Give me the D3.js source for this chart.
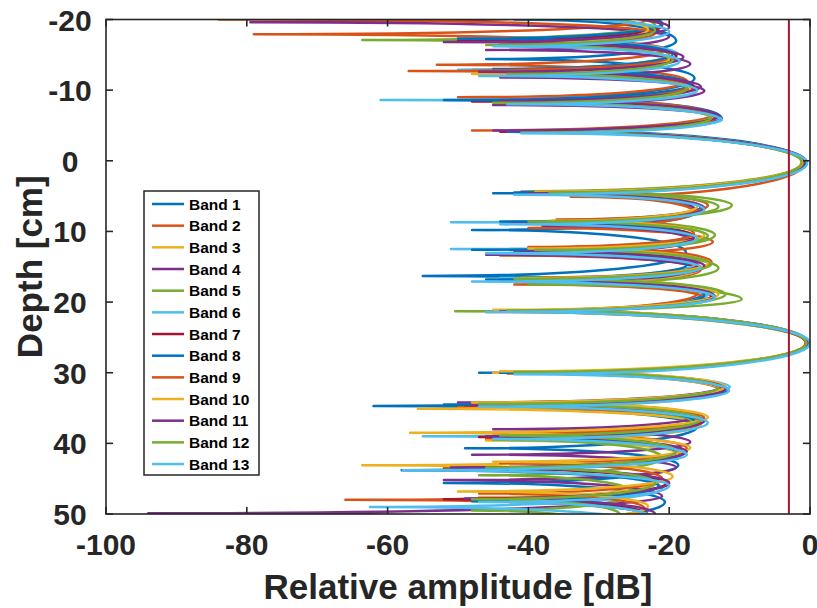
<!DOCTYPE html>
<html>
<head>
<meta charset="utf-8">
<script src="https://cdn.jsdelivr.net/npm/d3@7"></script>
<style>
  body { margin: 0; background: #fff; }
  svg { display: block; }
  text { font-family: "Liberation Sans", Arial, sans-serif; font-weight: bold; fill: #262626; }
</style>
</head>
<body>
<svg id="chart" width="817" height="608"></svg>
<script>
// ---- data ----
const bandNames = ['Band 1','Band 2','Band 3','Band 4','Band 5','Band 6','Band 7',
                   'Band 8','Band 9','Band 10','Band 11','Band 12','Band 13'];
const bandColors = ['#0072BD','#D95319','#EDB120','#7E2F8E','#77AC30','#4DBEEE','#A2142F',
                    '#0072BD','#D95319','#EDB120','#7E2F8E','#77AC30','#4DBEEE'];

// lobe peaks: depth [cm] and level [dB]
const peakDepth = [
  [-22.5,-17.0,-11.7,-6.1,0.2,7.1,13.0,18.7,25.8,32.4,37.6,43.1,48.3,53.5],
  [-24,-20.0,-15.8,-11.3,-6.5,0.3,7.2,11.5,15.4,19.4,25.8,32.4,37.1,41.4,45.7,50.1,54.5],
  [-23.5,-19.2,-14.9,-10.6,-6.2,0.2,6.8,10.9,15.1,19.3,25.8,32.5,37.3,41.4,45.4,49.8,54],
  [-25.5,-21.6,-17.6,-13.7,-9.9,-6.0,0.2,6.8,11.2,15.2,19.2,25.8,32.1,36.1,39.8,43.4,47.5,52,56],
  [-23.5,-19.2,-15.0,-10.7,-6.3,0.2,6.3,10.5,15.2,19.6,25.8,32.3,37.0,42.0,47.0,51.8,56],
  [-23.5,-19.4,-15.1,-10.2,-5.8,0.2,6.6,10.6,14.5,18.9,25.8,32.0,36.8,41.4,46.4,51.2,55],
  [-23.2,-19.1,-14.8,-10.5,-6.2,0.2,6.6,10.7,14.8,19.1,25.8,32.3,36.8,41.3,45.7,50.1,54.5],
  [-23.5,-19.4,-15.1,-10.8,-6.2,0.3,6.5,10.6,14.7,19.0,25.8,32.2,36.8,41.5,46.0,50.3,54.5],
  [-22,-18.1,-14.5,-10.5,-6.0,0.2,6.3,10.3,14.3,18.8,25.8,32.0,36.4,40.7,45.0,49.2,53.5],
  [-22.7,-18.6,-14.4,-10.2,-6.0,0.2,6.4,10.5,14.5,18.9,25.8,32.0,36.3,40.6,44.7,48.9,53.2],
  [-23,-18.9,-14.7,-10.5,-6.3,0.3,6.7,10.9,14.9,19.2,25.8,32.3,36.8,41.2,45.6,50.0,54.4],
  [-22.6,-18.5,-14.3,-10.2,-6.1,0.2,6.5,10.6,14.6,18.9,25.8,32.1,36.6,41.1,45.6,50.1,54.5],
  [-22.5,-18.3,-14.1,-10.0,-5.9,0.3,6.9,11.0,15.1,19.3,25.8,32.5,37.1,41.6,46.0,50.5,55]
];
const peakLevel = [
  [-23,-19,-16.4,-12.6,-0.8,-16,-17.6,-15,-0.2,-11.6,-16,-18.7,-20.6,-24],
  [-25,-23,-20.5,-17.5,-14,-0.8,-16.5,-13.8,-15.5,-15,-0.5,-13,-15.5,-18,-20,-23,-25],
  [-26,-22,-19,-17.5,-13.5,-0.9,-15,-16,-15.5,-14,-0.4,-12.5,-15.5,-19,-21.5,-25,-27],
  [-25,-24,-20,-17,-15,-12.5,-0.5,-16.5,-17,-16.5,-14,-0.6,-13,-16,-17,-19,-21,-24,-26],
  [-26,-22,-20,-17,-14,-1.0,-11.1,-13.5,-13,-9.7,-0.4,-12.5,-16.6,-21,-25,-29.4,-32],
  [-24,-21,-18.8,-16.5,-12.5,-0.7,-15.5,-17,-16,-14.5,-0.1,-11.4,-15,-18,-21,-24,-26],
  [-24,-21,-19,-16.5,-13.5,-0.8,-15.5,-16.5,-16,-14,-0.4,-12.5,-15.5,-18,-20.5,-23,-25],
  [-24,-21,-19.5,-17,-13.5,-0.6,-15.5,-17.5,-17.5,-15,-0.3,-12,-16.5,-18.5,-21.5,-23,-25],
  [-25,-22,-20,-17.5,-13.5,-1.0,-14.5,-16.5,-14,-16,-0.6,-12.5,-15,-17.5,-21,-23.5,-26],
  [-24,-23,-20,-17,-14,-1.1,-16,-15,-14.5,-13,-0.3,-12,-14.5,-17,-19.5,-23,-26],
  [-23,-20,-18,-15.5,-13,-0.5,-15,-16.5,-15,-13.5,-0.3,-12,-15,-17.5,-20,-22,-24],
  [-25,-22,-19.5,-17.5,-14,-1.2,-13,-14.5,-14,-12,-0.5,-13,-15.5,-19,-22,-27,-30],
  [-23,-20,-18.5,-16,-12.8,-0.4,-15,-16,-15.5,-13.5,0.0,-11.5,-14.5,-17.5,-20,-22.5,-25]
];

// nulls between the lobes: depth [cm] and the level the null dips to [dB]
const nullDepth = [
  [-20.0,-14.4,-8.9,-4.3,4.6,9.8,16.3,21.2,30.0,34.7,40.7,45.6,51.0],
  [-22.1,-17.9,-13.6,-9.0,-4.3,5.1,9.5,13.4,17.5,21.4,30.1,34.9,39.4,43.5,48.0,52.3],
  [-21.3,-17.0,-12.8,-8.5,-4.2,4.7,8.8,13.0,17.3,21.3,30.0,35.1,39.6,43.1,47.6,52.0],
  [-23.5,-19.6,-15.7,-11.8,-7.9,-4.1,4.4,9.2,13.3,17.2,21.3,30.1,34.2,38.0,41.6,45.2,49.9,54],
  [-21.4,-17.1,-12.9,-8.6,-4.2,4.3,8.4,12.8,17.5,21.3,30.0,34.7,39.5,44.5,49.5,54],
  [-21.5,-17.3,-12.9,-8.6,-4.2,4.5,8.7,12.5,16.6,21.2,30.0,34.5,39.0,43.8,49.0,53.5],
  [-21.2,-17.0,-12.7,-8.4,-4.1,4.6,8.7,12.7,16.9,21.3,30.0,34.6,39.1,43.5,47.9,52.3],
  [-21.5,-17.3,-13.0,-8.6,-4.1,4.5,8.6,12.6,16.8,21.3,30.0,34.5,39.2,43.8,48.2,52.5],
  [-20.0,-16.3,-12.7,-8.4,-4.0,4.4,8.3,12.2,16.5,21.2,29.9,34.3,38.6,42.8,47.1,51.3],
  [-20.6,-16.5,-12.3,-8.2,-4.0,4.4,8.5,12.4,16.6,21.1,29.8,34.2,38.5,42.6,46.8,51.0],
  [-21.0,-16.8,-12.6,-8.5,-4.3,4.6,8.9,12.9,17.0,21.3,30.0,34.6,39.0,43.4,47.8,52.2],
  [-20.6,-16.4,-12.3,-8.2,-4.0,4.5,8.6,12.6,16.7,21.2,29.9,34.4,38.9,43.4,47.9,52.4],
  [-20.4,-16.2,-12.0,-8.0,-3.9,4.8,9.0,13.1,17.1,21.4,30.2,34.8,39.4,43.8,48.3,52.8]
];
const nullLevel = [
  [-42,-46,-44,-40,-45,-48,-55,-42,-47,-62,-49,-52,-45],
  [-50,-79,-53,-50,-48,-34,-40,-44,-42,-46,-43,-50,-46,-52,-66,-45],
  [-45,-47,-44,-43,-42,-40,-39,-42,-37.6,-43,-45,-55.7,-46,-63.6,-47,-45],
  [-44,-79.5,-46,-44,-45,-42,-41,-38,-46,-40,-44,-42,-50,-45,-48,-52,-94,-45],
  [-45,-63.6,-48,-44,-42,-40,-36,-38,-40,-50.4,-44,-46,-45,-47,-48,-48],
  [-46,-48,-50,-61,-44,-39,-51,-51,-44,-45,-43,-46,-55,-50,-62.5,-46],
  [-47,-50,-45,-48,-44,-41,-40,-42,-44,-45,-43,-49,-47,-50,-52,-45],
  [-40,-50,-45,-52,-43,-42,-44,-48,-46,-40,-44,-52,-45,-58,-48,-45],
  [-84,-45,-57,-42,-40,-38,-36,-40,-38,-44,-42,-48,-45,-44,-47,-46],
  [-46,-44,-48,-42,-40,-39,-37,-40,-41,-45,-44,-48,-56.8,-45,-50,-46],
  [-48,-52,-47,-44,-45,-40,-43,-41,-39,-44,-42,-48,-46,-51,-49,-45],
  [-44,-46,-43,-45,-41,-37,-40,-39,-42,-43,-42,-47,-44,-46,-48,-47],
  [-50,-45,-47,-43,-41,-42,-44,-46,-48,-46,-42,-47,-45,-57.8,-47,-45]
];

const markerLevel = -3;           // vertical Band 7 line
const xTicks = [-100, -80, -60, -40, -20, 0];
const yTicks = [-20, -10, 0, 10, 20, 30, 40, 50];

// ---- layout ----
const svg = d3.select('#chart');
const plotLeft = 106, plotRight = 810, plotTop = 19.5, plotBottom = 514;

const x = d3.scaleLinear().domain([-100, 0]).range([plotLeft, plotRight]);
const y = d3.scaleLinear().domain([-20, 50]).range([plotTop, plotBottom]);

svg.append('defs').append('clipPath').attr('id', 'plot')
  .append('rect').attr('x', plotLeft).attr('y', plotTop)
  .attr('width', plotRight - plotLeft).attr('height', plotBottom - plotTop);

// lobe curve: points alternate peak / null / peak ...
// a lobe leaves its peak vertically and runs flat into the null
const kNull = 0.65, kPeak = 0.5;
function curveLobe(context) {
  return {
    areaStart() {}, areaEnd() {},
    lineStart() { this.i = 0; },
    lineEnd() {},
    point(px, py) {
      if (this.i === 0) {
        context.moveTo(px, py);
      } else if (this.i % 2 === 1) {
        context.bezierCurveTo(this.x0, this.y0 + kPeak * (py - this.y0),
                              px + kNull * (this.x0 - px), py, px, py);
      } else {
        context.bezierCurveTo(this.x0 + kNull * (px - this.x0), this.y0,
                              px, py - kPeak * (py - this.y0), px, py);
      }
      this.x0 = px; this.y0 = py; this.i++;
    }
  };
}

let lobeLine = d3.line()
  .x(d => x(d[1]))
  .y(d => y(d[0]))
  .curve(curveLobe);

let plot = svg.append('g').attr('clip-path', 'url(#plot)');

bandNames.forEach((name, b) => {
  let pts = [];
  peakDepth[b].forEach((d, i) => {
    pts.push([d, peakLevel[b][i]]);
    if (i < nullDepth[b].length) pts.push([nullDepth[b][i], nullLevel[b][i]]);
  });

  plot.append('path')
    .attr('d', lobeLine(pts))
    .attr('fill', 'none')
    .attr('stroke', bandColors[b])
    .attr('stroke-width', 2.5)
    .attr('stroke-linejoin', 'round');
});

plot.append('line')
  .attr('x1', x(markerLevel)).attr('x2', x(markerLevel))
  .attr('y1', plotTop).attr('y2', plotBottom)
  .attr('stroke', bandColors[6])
  .attr('stroke-width', 2);

// ---- axes ----
const axisColor = '#262626';
const tickLen = 7;

let axes = svg.append('g').attr('stroke', axisColor).attr('stroke-width', 1.6);

axes.append('rect')
  .attr('x', plotLeft).attr('y', plotTop)
  .attr('width', plotRight - plotLeft).attr('height', plotBottom - plotTop)
  .attr('fill', 'none');

xTicks.forEach(t => {
  axes.append('line').attr('x1', x(t)).attr('x2', x(t)).attr('y1', plotBottom).attr('y2', plotBottom - tickLen);
  axes.append('line').attr('x1', x(t)).attr('x2', x(t)).attr('y1', plotTop).attr('y2', plotTop + tickLen);
  svg.append('text')
    .attr('x', x(t)).attr('y', 555)
    .attr('text-anchor', 'middle')
    .attr('font-size', 30)
    .text(t);
});

yTicks.forEach(t => {
  axes.append('line').attr('x1', plotLeft).attr('x2', plotLeft + tickLen).attr('y1', y(t)).attr('y2', y(t));
  axes.append('line').attr('x1', plotRight).attr('x2', plotRight - tickLen).attr('y1', y(t)).attr('y2', y(t));
  svg.append('text')
    .attr('x', 70).attr('y', y(t) + 11)
    .attr('text-anchor', 'middle')
    .attr('font-size', 30)
    .text(t);
});

svg.append('text')
  .attr('x', (plotLeft + plotRight) / 2).attr('y', 599)
  .attr('text-anchor', 'middle')
  .attr('font-size', 35)
  .text('Relative amplitude [dB]');

svg.append('text')
  .attr('transform', `translate(42,${(plotTop + plotBottom) / 2}) rotate(-90)`)
  .attr('text-anchor', 'middle')
  .attr('font-size', 35)
  .text('Depth [cm]');

// ---- legend ----
const legX = 144, legY = 191, rowH = 21.67;
let legend = svg.append('g');
legend.append('rect')
  .attr('x', legX).attr('y', legY)
  .attr('width', 115).attr('height', 284)
  .attr('fill', '#fff')
  .attr('stroke', axisColor)
  .attr('stroke-width', 1.5);

bandNames.forEach((name, i) => {
  let cy = legY + 13 + i * rowH;
  legend.append('line')
    .attr('x1', legX + 8).attr('x2', legX + 40)
    .attr('y1', cy).attr('y2', cy)
    .attr('stroke', bandColors[i])
    .attr('stroke-width', 2.5);
  legend.append('text')
    .attr('x', legX + 45).attr('y', cy + 5.5)
    .attr('font-size', 15.5)
    .style('fill', '#000')
    .text(name);
});
</script>
</body>
</html>
